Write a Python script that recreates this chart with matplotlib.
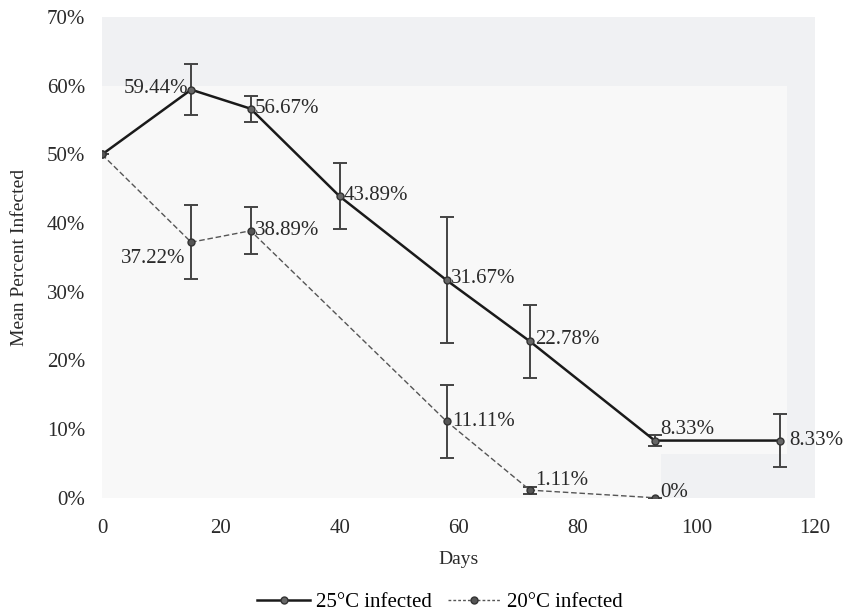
import matplotlib.pyplot as plt
from matplotlib.patches import Polygon
from matplotlib.lines import Line2D
from matplotlib.ticker import FuncFormatter

days_25 = [0, 15, 25, 40, 58, 72, 93, 114]
pct_25 = [50, 59.44, 56.67, 43.89, 31.67, 22.78, 8.33, 8.33]
err_25 = [0, 3.7, 1.9, 4.8, 9.2, 5.3, 0.8, 3.8]
labels_25 = ["", "59.44%", "56.67%", "43.89%", "31.67%", "22.78%", "8.33%", "8.33%"]

days_20 = [0, 15, 25, 58, 72, 93]
pct_20 = [50, 37.22, 38.89, 11.11, 1.11, 0]
err_20 = [0, 5.4, 3.4, 5.35, 0.5, 0]
labels_20 = ["", "37.22%", "38.89%", "11.11%", "1.11%", "0%"]

# label offsets in points (dx, dy, ha, va)
offs_25 = [None, (-2, 1, "right", "center"), (3, 0, "left", "center"), (3, 1, "left", "center"),
           (3, 1, "left", "center"), (4, 1, "left", "center"), (4, 1, "left", "bottom"), (7, 0, "left", "center")]
offs_20 = [None, (-4, -12, "right", "center"), (3, 0, "left", "center"), (4, 0, "left", "center"),
           (4, 7, "left", "center"), (4, 4, "left", "center")]

plt.rcParams["font.family"] = ["Liberation Serif", "DejaVu Serif"]

fig = plt.figure(figsize=(8.43, 6.13), dpi=100)
ax = fig.add_axes([0.121, 0.188, 0.846, 0.784])
ax.set_facecolor("#f0f1f3")

inner = Polygon([(0, 0), (94, 0), (94, 6.4), (115.3, 6.4), (115.3, 60), (0, 60)],
                closed=True, facecolor="#f8f8f8", edgecolor="none", zorder=0)
ax.add_patch(inner)

ax.errorbar(days_25, pct_25, yerr=err_25, color="#1a1a1a", lw=1.8, ecolor="#444444",
            elinewidth=1.4, capsize=5, capthick=1.4, marker="o", markersize=5,
            markerfacecolor="#666666", markeredgecolor="#333333", zorder=3)
ax.errorbar(days_20, pct_20, yerr=err_20, color="#555555", lw=1.0, ls=(0, (4, 2)),
            ecolor="#444444", elinewidth=1.4, capsize=5, capthick=1.4, marker="o",
            markersize=5, markerfacecolor="#555555", markeredgecolor="#333333", zorder=3)

for x, y, lab, o in zip(days_25, pct_25, labels_25, offs_25):
    if o:
        ax.annotate(lab, (x, y), xytext=(o[0], o[1]), textcoords="offset points",
                    ha=o[2], va=o[3], fontsize=15, color="#2a2a2a", zorder=4)
for x, y, lab, o in zip(days_20, pct_20, labels_20, offs_20):
    if o:
        ax.annotate(lab, (x, y), xytext=(o[0], o[1]), textcoords="offset points",
                    ha=o[2], va=o[3], fontsize=15, color="#2a2a2a", zorder=4)

ax.set_xlim(0, 120)
ax.set_ylim(0, 70)
ax.set_xticks(range(0, 121, 20))
ax.set_yticks(range(0, 71, 10))
ax.yaxis.set_major_formatter(FuncFormatter(lambda v, p: f"{v:.0f}%"))
ax.tick_params(length=0, labelsize=15, colors="#2a2a2a")
ax.tick_params(axis="x", pad=15)
ax.tick_params(axis="y", pad=12)
for s in ax.spines.values():
    s.set_visible(False)

ax.set_xlabel("Days", fontsize=14, labelpad=10, color="#2a2a2a")
ax.set_ylabel("Mean Percent Infected", fontsize=14, labelpad=14, color="#2a2a2a")

handles = [
    Line2D([], [], color="#1a1a1a", lw=1.8, marker="o", markersize=5,
           markerfacecolor="#666666", markeredgecolor="#333333"),
    Line2D([], [], color="#555555", lw=1.0, ls=(0, (2, 1.5)), marker="o", markersize=5,
           markerfacecolor="#555555", markeredgecolor="#333333"),
]
fig.legend(handles, ["25°C infected", "20°C infected"], loc="center",
           bbox_to_anchor=(0.522, 0.017), ncol=2, frameon=False, fontsize=15,
           handlelength=2.55, columnspacing=0.75, handletextpad=0.3)

fig.savefig("out.png", dpi=100)
